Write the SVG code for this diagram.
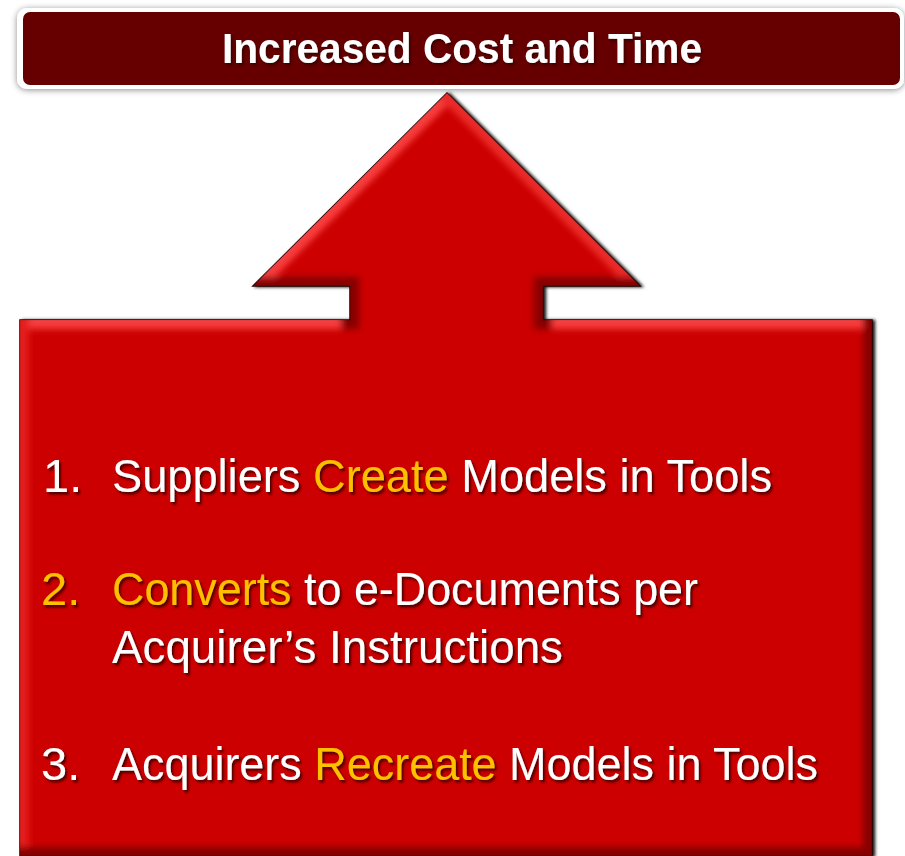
<svg xmlns="http://www.w3.org/2000/svg" width="905" height="856" viewBox="0 0 905 856">
  <defs>
    <style>
      .t { font-family: "Liberation Sans", Arial, sans-serif; font-size: 47px; fill: #FFFFFF; }
      .y { fill: #FFC000; }
      .title { font-family: "Liberation Sans", Arial, sans-serif; font-size: 42px; font-weight: bold; fill: #FFFFFF; }
      .light { stroke: #FF4A4A; stroke-width: 18; fill: none; stroke-linecap: square; }
      .dark { stroke: #7A0000; stroke-width: 18; fill: none; stroke-linecap: square; }
    </style>
    <filter id="tshadow" x="-5%" y="-20%" width="110%" height="150%">
      <feDropShadow dx="2" dy="2.5" stdDeviation="1" flood-color="#3A0000" flood-opacity="0.85"/>
    </filter>
    <filter id="bshadow" x="-5%" y="-30%" width="110%" height="160%">
      <feDropShadow dx="0" dy="1" stdDeviation="3" flood-color="#000000" flood-opacity="0.45"/>
    </filter>
    <filter id="ashadow" x="-5%" y="-5%" width="110%" height="110%">
      <feDropShadow dx="2.5" dy="0.5" stdDeviation="1.5" flood-color="#000000" flood-opacity="0.9"/>
    </filter>
    <filter id="soft" x="-5%" y="-5%" width="110%" height="110%">
      <feGaussianBlur stdDeviation="3"/>
    </filter>
    <clipPath id="aclip">
      <path d="M447,93 L640,286 L543,286 L543,320 L872,320 L872,856 L20,856 L20,320 L350,320 L350,286 L253,286 Z"/>
    </clipPath>
  </defs>

  <rect width="905" height="856" fill="#FFFFFF"/>

  <g id="banner">
    <rect x="17" y="8" width="887" height="81" rx="10" ry="10" fill="#FFFFFF" filter="url(#bshadow)"/>
    <rect x="23" y="12" width="877" height="73" rx="7" ry="7" fill="#660000"/>
    <text class="title" x="462" y="63" text-anchor="middle" textLength="480" lengthAdjust="spacingAndGlyphs" filter="url(#tshadow)">Increased Cost and Time</text>
  </g>

  <g id="arrow">
    <path d="M447,93 L640,286 L543,286 L543,320 L872,320 L872,856 L20,856 L20,320 L350,320 L350,286 L253,286 Z" fill="#CC0404" stroke="#200000" stroke-width="1.5" stroke-linejoin="miter" filter="url(#ashadow)"/>
    <g clip-path="url(#aclip)">
      <g filter="url(#soft)" opacity="0.85">
        <line class="light" x1="253" y1="286" x2="447" y2="93"/>
        <line class="light" x1="447" y1="93" x2="640" y2="286" style="stroke:#F03030"/>
        <line class="light" x1="20" y1="320" x2="350" y2="320"/>
        <line class="light" x1="543" y1="320" x2="872" y2="320"/>
        <line class="light" x1="20" y1="320" x2="20" y2="856" style="stroke:#E82020"/>
        <line class="dark" x1="253" y1="286" x2="350" y2="286"/>
        <line class="dark" x1="543" y1="286" x2="640" y2="286"/>
        <line class="dark" x1="350" y1="286" x2="350" y2="320"/>
        <line class="dark" x1="543" y1="286" x2="543" y2="320"/>
        <line class="dark" x1="872" y1="320" x2="872" y2="856"/>
        <line class="dark" x1="20" y1="856" x2="872" y2="856"/>
      </g>
    </g>
  </g>

  <g id="item1" filter="url(#tshadow)">
    <text class="t" x="43" y="492">1.</text>
    <text class="t" x="112" y="492" textLength="660" lengthAdjust="spacingAndGlyphs">Suppliers <tspan class="y">Create</tspan> Models in Tools</text>
  </g>

  <g id="item2" filter="url(#tshadow)">
    <text class="t y" x="41" y="605">2.</text>
    <text class="t" x="112" y="605" textLength="586" lengthAdjust="spacingAndGlyphs"><tspan class="y">Converts</tspan> to e-Documents per</text>
    <text class="t" x="112" y="663" textLength="451" lengthAdjust="spacingAndGlyphs">Acquirer’s Instructions</text>
  </g>

  <g id="item3" filter="url(#tshadow)">
    <text class="t" x="41" y="780">3.</text>
    <text class="t" x="112" y="780" textLength="706" lengthAdjust="spacingAndGlyphs">Acquirers <tspan class="y">Recreate</tspan> Models in Tools</text>
  </g>
</svg>
